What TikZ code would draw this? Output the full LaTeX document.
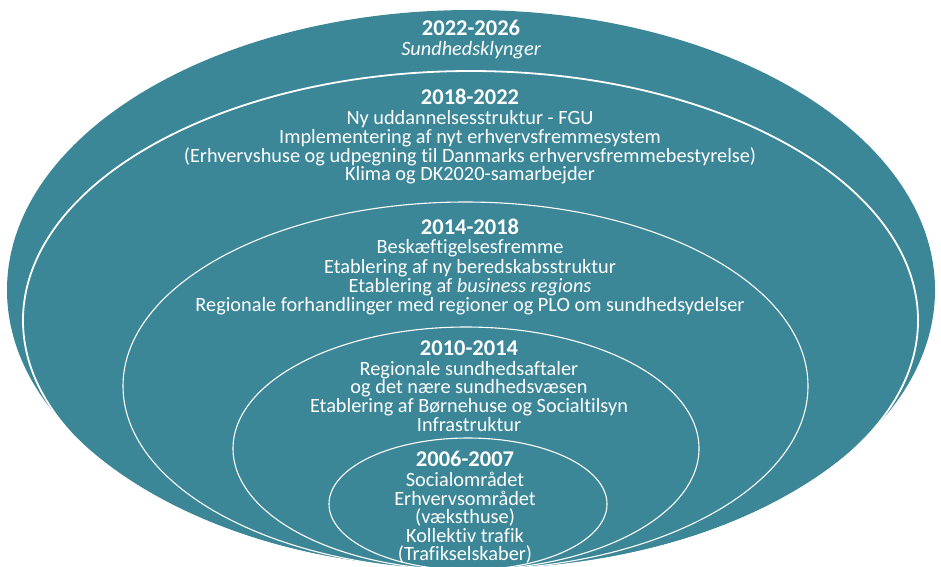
\documentclass[tikz,border=0pt]{standalone}
\usepackage{fontspec}
\setmainfont{Carlito}[Ligatures=NoCommon]
\definecolor{tealbg}{RGB}{59,134,151}
\tikzset{
  ring/.style={draw=white, line width=1.1pt},
  ringthick/.style={draw=white, line width=1.8pt},
  ttl/.style={text=white, anchor=base, inner sep=0pt, font=\fontsize{22.5}{22}\selectfont\bfseries},
  txt/.style={text=white, anchor=base, inner sep=0pt, font=\fontsize{20.3}{20}\selectfont},
}
\begin{document}
\begin{tikzpicture}[x=1pt,y=-1pt]
\useasboundingbox (0,0) rectangle (941,566);
\begin{scope}
\clip (0,0) rectangle (941,566);
\fill[tealbg] (471,290) ellipse [x radius=464, y radius=280];
\draw[ringthick] (470.5,320.5) ellipse [x radius=447.5, y radius=249.5];
\draw[ring] (465.5,386) ellipse [x radius=342.5, y radius=184];
\draw[ring] (466,448.5) ellipse [x radius=233, y radius=121.5];
\draw[ring] (468,504) ellipse [x radius=139, y radius=66];
\end{scope}
% block 1
\node[ttl] (a0) at (471,35) {2022-2026};
\node[txt] (a1) at (471,55) {\itshape Sundhedsklynger};
% block 2
\node[ttl] (b0) at (470,104) {2018-2022};
\node[txt] (b1) at (470,124) {Ny uddannelsesstruktur - FGU};
\node[txt] (b2) at (470,143) {Implementering af nyt erhvervsfremmesystem};
\node[txt] (b3) at (470,162) {(Erhvervshuse og udpegning til Danmarks erhvervsfremmebestyrelse)};
\node[txt] (b4) at (470,180) {Klima og DK2020-samarbejder};
% block 3
\node[ttl] (c0) at (470,234) {2014-2018};
\node[txt] (c1) at (470,253) {Beskæftigelsesfremme};
\node[txt] (c2) at (470,273) {Etablering af ny beredskabsstruktur};
\node[txt] (c3) at (470,292) {Etablering af \textit{business regions}};
\node[txt] (c4) at (470,311) {Regionale forhandlinger med regioner og PLO om sundhedsydelser};
% block 4
\node[ttl] (d0) at (469,355) {2010-2014};
\node[txt] (d1) at (469,375) {Regionale sundhedsaftaler};
\node[txt] (d2) at (469,393) {og det nære sundhedsvæsen};
\node[txt] (d3) at (469,412) {Etablering af Børnehuse og Socialtilsyn};
\node[txt] (d4) at (469,431) {Infrastruktur};
% block 5
\node[ttl] (e0) at (465,466) {2006-2007};
\node[txt] (e1) at (465,486) {Socialområdet};
\node[txt] (e2) at (465,505) {Erhvervsområdet};
\node[txt] (e3) at (465,523) {(væksthuse)};
\node[txt] (e4) at (465,542) {Kollektiv trafik};
\node[txt] (e5) at (465,560) {(Trafikselskaber)};
\end{tikzpicture}
\end{document}
